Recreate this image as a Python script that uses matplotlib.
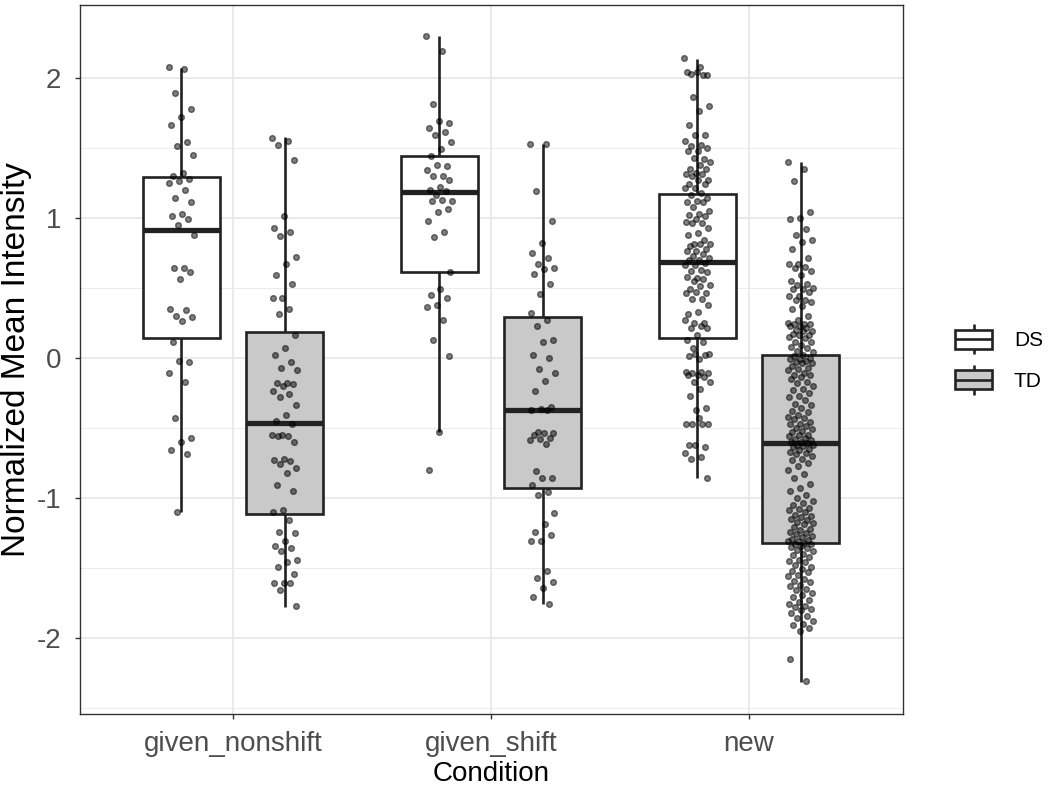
import matplotlib
matplotlib.use('Agg')
import matplotlib.pyplot as plt
import numpy as np
from matplotlib.legend_handler import HandlerBase
from matplotlib.lines import Line2D
from matplotlib.patches import Patch, Rectangle
from matplotlib.ticker import FixedLocator

plt.rcParams['font.family'] = ['Liberation Sans', 'DejaVu Sans']
plt.rcParams['axes.unicode_minus'] = False

conditions = ['given_nonshift', 'given_shift', 'new']
groups = ['DS', 'TD']

# box statistics (per condition)
ds_med = [0.914, 1.183, 0.686]
ds_q1 = [0.145, 0.612, 0.145]
ds_q3 = [1.288, 1.438, 1.169]
ds_lo = [-1.10, -0.53, -0.859]
ds_hi = [2.07, 2.295, 2.133]

td_med = [-0.462, -0.371, -0.605]
td_q1 = [-1.112, -0.931, -1.319]
td_q3 = [0.188, 0.295, 0.019]
td_lo = [-1.776, -1.76, -2.314]
td_hi = [1.574, 1.529, 1.402]

# individual observations (jittered points)
gn_ds = [2.08, 2.06, 1.89, 1.78, 1.72, 1.66, 1.54, 1.51, 1.45, 1.32, 1.30, 1.28, 1.26, 1.25,
         1.20, 1.14, 1.11, 1.03, 1.01, 0.99, 0.95, 0.88, 0.645, 0.64, 0.61, 0.56, 0.35, 0.34,
         0.30, 0.29, 0.26, 0.11, -0.03, -0.02, -0.11, -0.17, -0.43, -0.57, -0.60, -0.66,
         -0.69, -1.10]
gn_td = [1.57, 1.55, 1.52, 1.41, 1.01, 0.93, 0.90, 0.87, 0.72, 0.67, 0.59, 0.53, 0.43, 0.43,
         0.35, 0.31, 0.16, 0.07, 0.02, -0.03, -0.07, -0.09, -0.18, -0.18, -0.19, -0.20, -0.24,
         -0.26, -0.28, -0.34, -0.41, -0.45, -0.47, -0.55, -0.55, -0.56, -0.56, -0.60, -0.72,
         -0.73, -0.74, -0.76, -0.79, -0.82, -0.91, -0.95, -1.09, -1.10, -1.16, -1.24, -1.25,
         -1.31, -1.34, -1.36, -1.38, -1.44, -1.46, -1.49, -1.54, -1.61, -1.61, -1.61, -1.66,
         -1.77]
gs_ds = [2.30, 2.19, 1.81, 1.68, 1.69, 1.64, 1.61, 1.59, 1.54, 1.49, 1.44, 1.37, 1.38, 1.34,
         1.30, 1.30, 1.27, 1.22, 1.20, 1.19, 1.16, 1.12, 1.13, 1.12, 1.06, 1.04, 0.98, 0.90,
         0.86, 0.61, 0.49, 0.45, 0.43, 0.38, 0.36, 0.27, 0.13, 0.01, -0.53, -0.80]
gs_td = [1.53, 1.53, 1.19, 0.98, 0.82, 0.75, 0.71, 0.67, 0.645, 0.635, 0.60, 0.53, 0.455, 0.32,
         0.27, 0.23, 0.125, 0.115, 0.02, 0.00, -0.08, -0.11, -0.165, -0.235, -0.35, -0.365,
         -0.37, -0.375, -0.53, -0.535, -0.54, -0.55, -0.57, -0.58, -0.585, -0.615, -0.805,
         -0.855, -0.86, -0.905, -0.955, -0.98, -1.11, -1.185, -1.245, -1.265, -1.305, -1.31,
         -1.52, -1.57, -1.60, -1.64, -1.71, -1.76]
nw_ds = [2.14, 2.08, 2.03, 2.02, 2.04, 2.04, 2.02, 1.86, 1.80, 1.76, 1.66, 1.59, 1.59, 1.55,
         1.52, 1.51, 1.50, 1.48, 1.48, 1.42, 1.43, 1.40, 1.38, 1.35, 1.35, 1.32, 1.31, 1.31,
         1.30, 1.27, 1.27, 1.24, 1.24, 1.21, 1.21, 1.18, 1.16, 1.14, 1.12, 1.11, 1.11, 1.08,
         1.05, 1.03, 1.02, 1.01, 0.99, 0.97, 0.96, 0.96, 0.93, 0.89, 0.88, 0.84, 0.81, 0.81,
         0.81, 0.80, 0.78, 0.76, 0.76, 0.74, 0.73, 0.71, 0.70, 0.70, 0.68, 0.66, 0.66, 0.63,
         0.62, 0.61, 0.57, 0.58, 0.56, 0.55, 0.52, 0.51, 0.49, 0.46, 0.47, 0.46, 0.42, 0.42,
         0.38, 0.33, 0.31, 0.25, 0.25, 0.27, 0.23, 0.21, 0.21, 0.16, 0.13, 0.11, 0.07, 0.03,
         -0.01, 0.01, 0.02, 0.03, -0.10, -0.10, -0.11, -0.11, -0.12, -0.12, -0.14, -0.17,
         -0.17, -0.22, -0.27, -0.36, -0.37, -0.47, -0.47, -0.47, -0.47, -0.43, -0.62, -0.64,
         -0.62, -0.68, -0.71, -0.72, -0.86]
nw_td = [1.40, 1.35, 1.26, 1.04, 1.00, 0.99, 0.92, 0.88, 0.84, 0.83, 0.78, 0.71, 0.67, 0.67,
         0.65, 0.64, 0.62, 0.59, 0.55, 0.53, 0.52, 0.50, 0.49, 0.49, 0.47, 0.44, 0.44, 0.41,
         0.41, 0.40, 0.37, 0.35, 0.30, 0.27, 0.25, 0.24, 0.24, 0.24, 0.23, 0.23, 0.21, 0.20,
         0.19, 0.19, 0.17, 0.16, 0.16, 0.15, 0.14, 0.11, 0.11, 0.09, 0.08, 0.07, 0.05, 0.04,
         0.02,
         0.01, 0.00, -0.01, -0.01, -0.02, -0.03, -0.04, -0.04, -0.06, -0.07, -0.08, -0.09,
         -0.11, -0.12, -0.12, -0.14, -0.15, -0.17, -0.18, -0.20, -0.22, -0.23, -0.25, -0.27,
         -0.28, -0.30, -0.33, -0.34, -0.36, -0.38, -0.39, -0.41, -0.42, -0.43, -0.44, -0.46,
         -0.47, -0.47, -0.49, -0.50, -0.51, -0.52, -0.53, -0.55, -0.55, -0.56, -0.57, -0.58,
         -0.59, -0.60, -0.60,
         -0.61, -0.62, -0.62, -0.63, -0.64, -0.65, -0.66, -0.67, -0.68, -0.69, -0.70, -0.72,
         -0.73, -0.75, -0.77, -0.80, -0.83, -0.86, -0.90, -0.93, -0.95, -0.98, -1.00, -1.02,
         -1.04, -1.05, -1.07, -1.08, -1.09, -1.10, -1.12, -1.13, -1.14, -1.15, -1.16, -1.17,
         -1.18, -1.19, -1.21, -1.22, -1.23, -1.24, -1.25, -1.26, -1.27, -1.28, -1.29, -1.30,
         -1.31, -1.31,
         -1.32, -1.33, -1.33, -1.34, -1.35, -1.36, -1.37, -1.38, -1.40, -1.41, -1.42, -1.44,
         -1.45, -1.46, -1.48, -1.49, -1.51, -1.52, -1.53, -1.55, -1.56, -1.58, -1.59, -1.60,
         -1.62, -1.63, -1.65, -1.66, -1.68, -1.69, -1.71, -1.73, -1.74, -1.76, -1.77, -1.78,
         -1.79, -1.80, -1.82, -1.84, -1.86, -1.88, -1.90, -1.91, -1.93, -1.95, -2.15, -2.31]

ds_points = [gn_ds, gs_ds, nw_ds]
td_points = [gn_td, gs_td, nw_td]

EDGE = '#222222'
TD_FILL = '#c9c9c9'
DODGE = 0.2
BOX_W = 0.30
JIT = 0.05


def box_stats(med, q1, q3, lo, hi):
    return [dict(med=m, q1=a, q3=b, whislo=l, whishi=h)
            for m, a, b, l, h in zip(med, q1, q3, lo, hi)]


def draw_boxes(ax, stats, positions, fill):
    ax.bxp(stats, positions=positions, widths=BOX_W, patch_artist=True,
           showfliers=False, showcaps=False, manage_ticks=False,
           boxprops=dict(facecolor=fill, edgecolor=EDGE, linewidth=1.9),
           whiskerprops=dict(color=EDGE, linewidth=1.9, solid_capstyle='butt'),
           medianprops=dict(color=EDGE, linewidth=3.8, solid_capstyle='butt'),
           zorder=2)


def draw_points(ax, values, center):
    values = np.asarray(values)
    # deterministic jitter (golden-ratio sequence) around the box centre
    offs = ((np.arange(len(values)) * 0.6180339887) % 1.0 - 0.5) * 2 * JIT
    ax.scatter(center + offs, values, s=17, c='black', alpha=0.5,
               edgecolors='black', linewidths=1.0, zorder=3)


class BoxKeyHandler(HandlerBase):
    def create_artists(self, legend, orig_handle, xdescent, ydescent, width, height,
                       fontsize, trans):
        x0, y0 = -xdescent, -ydescent
        cx, cy = x0 + width / 2, y0 + height / 2
        whisk = Line2D([cx, cx], [y0, y0 + height], color=EDGE, lw=1.9,
                       solid_capstyle='butt', transform=trans)
        box = Rectangle((x0, cy - 0.32 * height), width, 0.64 * height,
                        facecolor=orig_handle.get_facecolor(), edgecolor=EDGE,
                        lw=1.9, transform=trans)
        med = Line2D([x0, x0 + width], [cy, cy], color=EDGE, lw=1.9,
                     solid_capstyle='butt', transform=trans)
        return [whisk, box, med]


fig = plt.figure(figsize=(10.5, 7.89), dpi=100)
ax = fig.add_axes([0.0762, 0.0951, 0.7838, 0.8986])

pos = np.arange(len(conditions))
draw_boxes(ax, box_stats(ds_med, ds_q1, ds_q3, ds_lo, ds_hi), pos - DODGE, 'white')
draw_boxes(ax, box_stats(td_med, td_q1, td_q3, td_lo, td_hi), pos + DODGE, TD_FILL)
for i in range(len(conditions)):
    draw_points(ax, ds_points[i], pos[i] - DODGE)
    draw_points(ax, td_points[i], pos[i] + DODGE)

ax.set_xlim(-0.593, 2.597)
ax.set_ylim(-2.543, 2.52)
ax.set_xticks(pos)
ax.set_xticklabels(conditions)
ax.set_yticks([-2, -1, 0, 1, 2])
ax.yaxis.set_minor_locator(FixedLocator([-2.5, -1.5, -0.5, 0.5, 1.5]))

ax.set_axisbelow(True)
ax.grid(True, which='major', color='#e6e6e6', linewidth=1.2)
ax.grid(True, which='minor', axis='y', color='#ebebeb', linewidth=0.7)
for sp in ax.spines.values():
    sp.set_color('#333333')
    sp.set_linewidth(1.0)
ax.tick_params(which='major', length=3.6, width=1.0, color='#333333',
               labelsize=20, labelcolor='#4d4d4d')
ax.tick_params(axis='y', which='major', pad=10)
ax.tick_params(axis='x', which='major', pad=8.5)
ax.tick_params(which='minor', length=0)

ax.set_xlabel('Condition', fontsize=20, labelpad=3)
ax.set_ylabel('Normalized Mean Intensity', fontsize=24)
ax.yaxis.set_label_coords(-0.058, 0.5)

handles = [Patch(facecolor='white'), Patch(facecolor=TD_FILL)]
fig.legend(handles, groups, handler_map={Patch: BoxKeyHandler()},
           loc='center left', bbox_to_anchor=(0.9095, 0.5444), frameon=False,
           fontsize=15, handlelength=1.78, handleheight=1.82, handletextpad=1.05,
           labelspacing=0.53, borderpad=0, borderaxespad=0)

fig.savefig('out.png', dpi=100)
